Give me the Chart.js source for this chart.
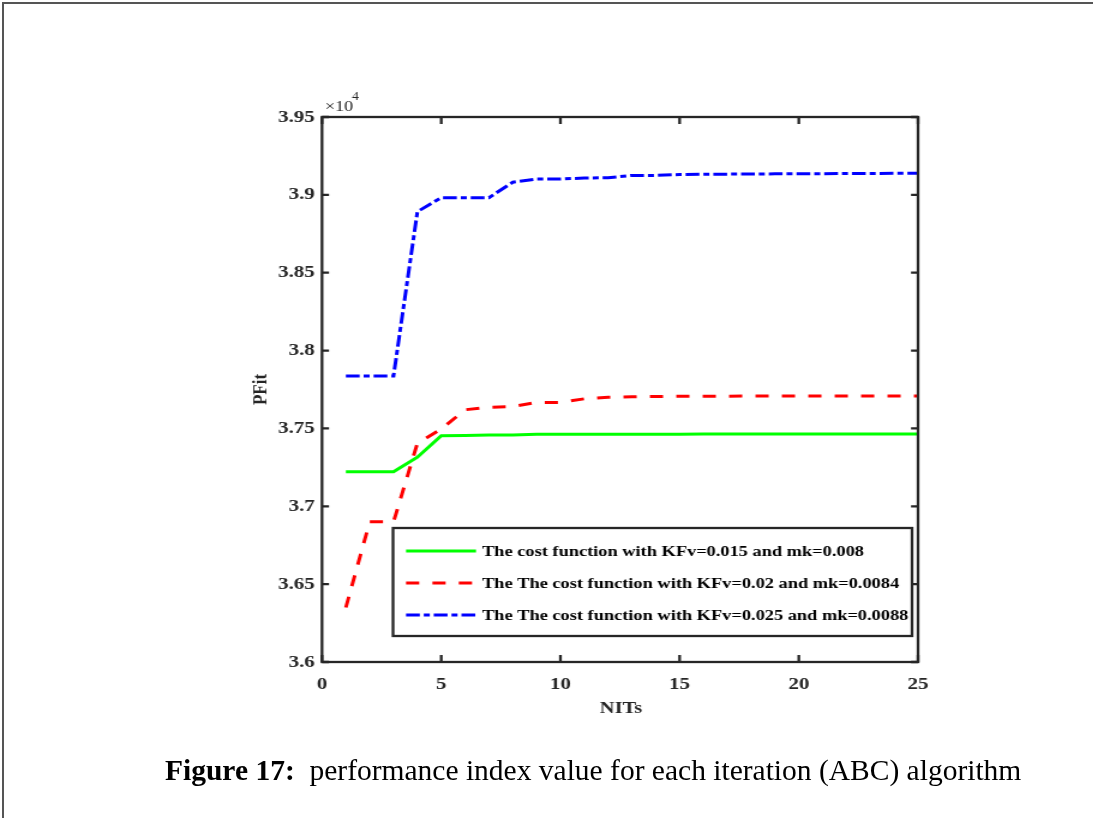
<!DOCTYPE html>
<html>
<head>
<meta charset="utf-8">
<script src="https://cdn.jsdelivr.net/npm/chart.js@4.4.1/dist/chart.umd.min.js"></script>
<style>
  html, body { margin: 0; padding: 0; background: #fff; }
  #page { position: relative; width: 1093px; height: 818px; overflow: hidden; }
  #frame { position: absolute; left: 2px; top: 2px; width: 1100px; height: 830px;
           border-top: 2px solid #555; border-left: 2px solid #555; }
  /* the source figure is stretched sideways; reproduce that with a scaleX */
  #chart { position: absolute; left: 0; top: 0; transform: scaleX(1.2); transform-origin: 0 0; }
  #caption { position: absolute; left: 165px; top: 756px; font-family: "Liberation Serif", serif;
             font-size: 29.5px; line-height: 1; color: #000; white-space: pre; }
  #caption b { font-weight: bold; }
</style>
</head>
<body>
<div id="page">
  <div id="frame"></div>
  <canvas id="chart" width="911" height="818"></canvas>
  <div id="caption"><b>Figure 17:</b>  performance index value for each iteration (ABC) algorithm</div>
</div>
<script>
  "use strict";

  var iterations = [1, 2, 3, 4, 5, 6, 7, 8, 9, 10, 11, 12, 13, 14, 15, 16, 17, 18, 19, 20, 21, 22, 23, 24, 25];
  var costA = [37222, 37222, 37222, 37315, 37453, 37455, 37457, 37458, 37462, 37462, 37462, 37462, 37463,
               37463, 37463, 37464, 37464, 37464, 37464, 37464, 37464, 37464, 37464, 37464, 37464];
  var costB = [36350, 36900, 36900, 37405, 37496, 37620, 37636, 37640, 37667, 37667, 37690, 37700, 37703,
               37705, 37706, 37707, 37707, 37708, 37708, 37708, 37708, 37708, 37708, 37708, 37708];
  var costC = [37837, 37837, 37837, 38892, 38982, 38982, 38982, 39081, 39102, 39102, 39108, 39110, 39125,
               39125, 39130, 39132, 39133, 39134, 39135, 39136, 39136, 39137, 39137, 39138, 39138];
  var seriesLabels = [
    "The cost function with KFv=0.015 and mk=0.008",
    "The The cost function with KFv=0.02 and mk=0.0084",
    "The The cost function with KFv=0.025 and mk=0.0088",
  ];
  var xTicks = [0, 5, 10, 15, 20, 25];
  var yTicks = [36000, 36500, 37000, 37500, 38000, 38500, 39000, 39500];

  var S = 1.2; // horizontal stretch of the canvas
  var FONT = '"Liberation Serif", "Times New Roman", serif';
  var AXIS = "#262626";

  function pts(values) {
    return values.map(function (v, i) { return { x: iterations[i], y: v }; });
  }

  var matlabBox = {
    id: "matlabBox",
    afterDatasetsDraw: function (chart) {
      var ctx = chart.ctx;
      var a = chart.chartArea;
      var xs = chart.scales.x, ys = chart.scales.y;
      ctx.save();
      ctx.strokeStyle = AXIS;
      ctx.lineWidth = 2.3;
      ctx.lineCap = "butt";
      // inward ticks, all four sides
      ctx.beginPath();
      xTicks.forEach(function (t) {
        var px = xs.getPixelForValue(t);
        ctx.moveTo(px, a.bottom); ctx.lineTo(px, a.bottom - 7);
        ctx.moveTo(px, a.top); ctx.lineTo(px, a.top + 7);
      });
      yTicks.forEach(function (t) {
        var py = ys.getPixelForValue(t);
        ctx.moveTo(a.left, py); ctx.lineTo(a.left + 7 / S, py);
        ctx.moveTo(a.right, py); ctx.lineTo(a.right - 7 / S, py);
      });
      ctx.stroke();
      ctx.strokeRect(a.left, a.top, a.right - a.left, a.bottom - a.top);

      // axis titles and exponent
      ctx.fillStyle = "#262626";
      ctx.font = "bold 17px " + FONT;
      ctx.textAlign = "center";
      ctx.textBaseline = "middle";
      ctx.fillText("NITs", (a.left + a.right) / 2 + 1 / S, a.bottom + 47);
      ctx.save();
      ctx.translate(a.left - 61 / S, (a.top + a.bottom) / 2);
      ctx.rotate(-Math.PI / 2);
      ctx.fillText("PFit", 0, 0);
      ctx.restore();
      ctx.textAlign = "left";
      ctx.font = "15px " + FONT;
      ctx.fillText("\u00d710", a.left + 3 / S, a.top - 10);
      ctx.font = "11.5px " + FONT;
      ctx.fillText("4", a.left + 30 / S, a.top - 20);

      // legend box
      var lx = 393 / S, ly = 528, lw = 519 / S, lh = 108;
      ctx.fillStyle = "#fff";
      ctx.fillRect(lx, ly, lw, lh);
      ctx.strokeStyle = AXIS;
      ctx.lineWidth = 2.3;
      ctx.strokeRect(lx, ly, lw, lh);
      ctx.font = "bold 15.3px " + FONT;
      ctx.fillStyle = "#000";
      chart.data.datasets.forEach(function (ds, i) {
        var y = ly + 23 + i * 32;
        ctx.strokeStyle = ds.borderColor;
        ctx.lineWidth = ds.borderWidth;
        ctx.setLineDash(ds.borderDash || []);
        ctx.beginPath();
        ctx.moveTo(lx + 13 / S, y); ctx.lineTo(lx + 83 / S, y);
        ctx.stroke();
        ctx.setLineDash([]);
        ctx.fillText(ds.label, lx + 89 / S, y + 1);
      });
      ctx.restore();
    }
  };

  new Chart(document.getElementById("chart"), {
    type: "line",
    data: {
      datasets: [
        { label: seriesLabels[0], data: pts(costA), borderColor: "#00ff00", borderWidth: 3 },
        { label: seriesLabels[1], data: pts(costB), borderColor: "#ff0000", borderWidth: 3, borderDash: [11, 11] },
        { label: seriesLabels[2], data: pts(costC), borderColor: "#0000ff", borderWidth: 3, borderDash: [11.5, 3.3, 5, 3.3] },
      ],
    },
    options: {
      responsive: false,
      animation: false,
      layout: { padding: { left: 0, top: 117, right: 911 - 918 / S, bottom: 0 } },
      elements: { point: { radius: 0 }, line: { tension: 0, borderCapStyle: "butt" } },
      plugins: { legend: { display: false }, tooltip: { enabled: false } },
      scales: {
        x: {
          type: "linear", min: 0, max: 25,
          afterFit: function (s) { s.height = 156; },
          afterBuildTicks: function (s) { s.ticks = xTicks.map(function (v) { return { value: v }; }); },
          grid: { display: false, drawTicks: false },
          border: { display: false },
          ticks: { padding: 12, color: "#262626", font: { family: FONT, size: 17.5, weight: "bold" } },
        },
        y: {
          type: "linear", min: 36000, max: 39500,
          afterFit: function (s) { s.width = 322 / S; },
          afterBuildTicks: function (s) { s.ticks = yTicks.map(function (v) { return { value: v }; }); },
          grid: { display: false, drawTicks: false },
          border: { display: false },
          ticks: {
            padding: 6, color: "#262626", font: { family: FONT, size: 17.5, weight: "bold" },
            callback: function (v) { return String(Number((v / 1e4).toFixed(2))); },
          },
        },
      },
    },
    plugins: [matlabBox],
  });
</script>
</body>
</html>
